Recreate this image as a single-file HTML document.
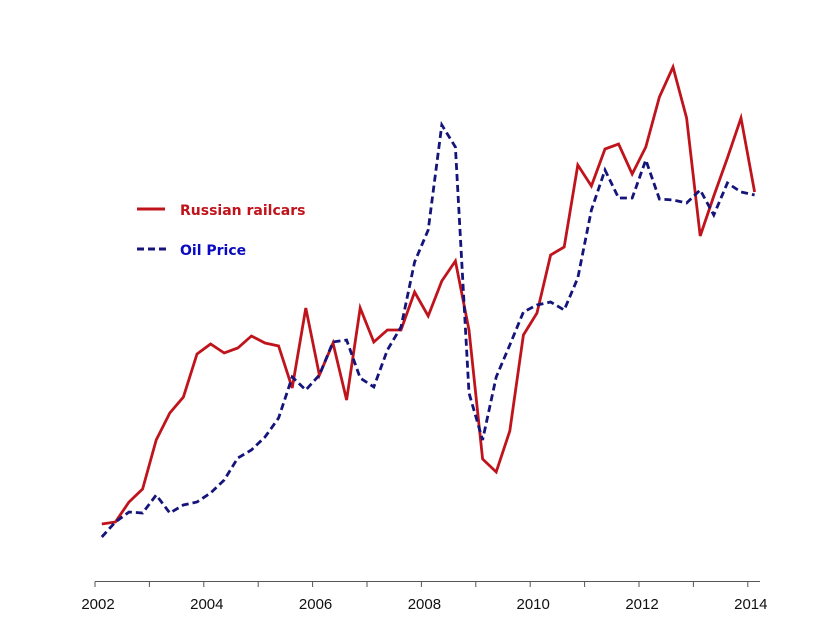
<!DOCTYPE html>
<html><head><meta charset="utf-8"><style>
html,body{margin:0;padding:0;background:#fff;width:832px;height:643px;overflow:hidden}
svg{display:block}
</style></head><body>
<svg id="chart" width="832" height="643" viewBox="0 0 832 643" xmlns="http://www.w3.org/2000/svg" font-family="'DejaVu Sans', 'Liberation Sans', sans-serif">
<g id="axis"></g>
<g id="series"></g>
<g>
  <line x1="137" y1="209" x2="165" y2="209" stroke="#c0141c" stroke-width="3"/>
  <text x="180" y="215" font-size="14" font-weight="bold" fill="#c0141c">Russian railcars</text>
  <line x1="137" y1="249" x2="167" y2="249" stroke="#14147a" stroke-width="3" stroke-dasharray="7,4"/>
  <text x="180" y="255" font-size="14" font-weight="bold" fill="#0a0ac0">Oil Price</text>
</g>
</svg>
<script>
const startYear = 2002;
const tickYears = [2002,2003,2004,2005,2006,2007,2008,2009,2010,2011,2012,2013,2014];
const tickLabels = ["2002","","2004","","2006","","2008","","2010","","2012","","2014"];
const railcars = [11.2,11.6,15.6,18.2,28,33.4,36.6,45.2,47.2,45.4,46.4,48.8,47.4,46.8,38.4,54.4,41,47.4,36,54.4,47.6,50,50,57.6,52.8,59.8,63.8,50,24.2,21.6,29.8,49,53.4,65,66.6,83,78.8,86.2,87.2,81.2,86.6,96.6,102.6,92.4,68.8,76.8,84.4,92.4,77.6];
const oilPrice = [8.6,11.6,13.6,13.4,17,13.4,15,15.6,17.4,20,24.4,26,28.6,32.4,40.6,38,41,47.6,48,40.4,38.6,46,50.6,63.6,70,91,86.6,37.4,28,40.6,47,53.6,55,55.6,54,60.4,74,82,76.4,76.4,84,76.2,76,75.4,78,73,79.4,77.6,77];

const NS = "http://www.w3.org/2000/svg";
function xPos(year){ return 95 + (year - 2002) * 54.4; }
function yPos(v){ return 580 - v * 5; }
function qYear(i){ return startYear + (i + 0.5) / 4; }

const axis = document.getElementById('axis');
const base = document.createElementNS(NS,'line');


base.setAttribute('x1',95); base.setAttribute('x2',760);
base.setAttribute('y1',581.5); base.setAttribute('y2',581.5);
base.setAttribute('stroke','#555'); base.setAttribute('stroke-width','1');
axis.appendChild(base);
tickYears.forEach((yr,k)=>{
  const x = xPos(yr);
  const t = document.createElementNS(NS,'line');
  
  
  t.setAttribute('x1',x); t.setAttribute('x2',x);
  t.setAttribute('y1',581.5); t.setAttribute('y2',587);
  t.setAttribute('stroke','#555'); t.setAttribute('stroke-width','1');
  axis.appendChild(t);
  if(tickLabels[k]){
    const lb = document.createElementNS(NS,'text');
    
    
    lb.setAttribute('x',x+3); lb.setAttribute('y',609);
    lb.setAttribute('text-anchor','middle');
    lb.setAttribute('font-size','15');
    lb.setAttribute('font-family',"'Liberation Sans', sans-serif");
    lb.setAttribute('fill','#111');
    lb.textContent = tickLabels[k];
    axis.appendChild(lb);
  }
});

const series = document.getElementById('series');
function pathFor(arr){
  return arr.map((v,i)=>(i?'L':'M')+xPos(qYear(i)).toFixed(1)+','+yPos(v).toFixed(1)).join(' ');
}
const pRail = document.createElementNS(NS,'path');


pRail.setAttribute('d',pathFor(railcars));
pRail.setAttribute('fill','none'); pRail.setAttribute('stroke','#c0141c');
pRail.setAttribute('stroke-width','2.8'); pRail.setAttribute('stroke-linejoin','miter');
series.appendChild(pRail);
const pOil = document.createElementNS(NS,'path');


pOil.setAttribute('d',pathFor(oilPrice));
pOil.setAttribute('fill','none'); pOil.setAttribute('stroke','#14147a');
pOil.setAttribute('stroke-width','2.8'); pOil.setAttribute('stroke-dasharray','7,4');
series.appendChild(pOil);
</script>
</body></html>
